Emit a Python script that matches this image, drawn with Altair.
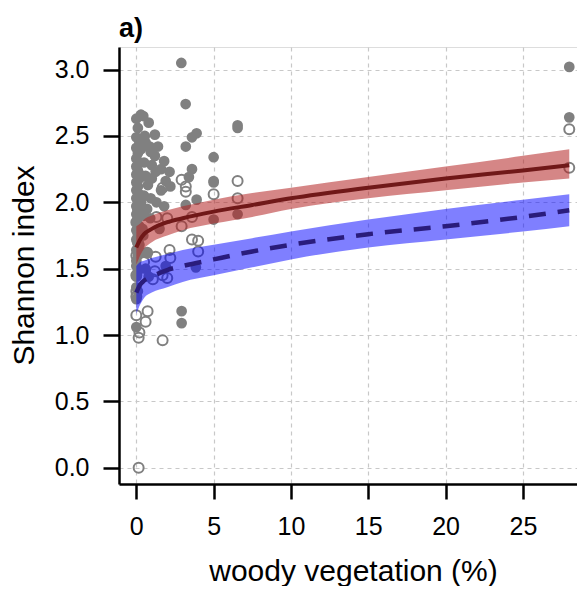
import altair as alt
import pandas as pd

# ---- data ----
fill_x = [0.0, 0.1, 0.0, 0.2, 0.0, 0.1, 0.0, 0.2, 0.0, 0.1, 0.0, 0.2, 0.0, 0.1, 0.0, 0.2,
          0.0, 0.1, 0.0, 0.2, 0.0, 0.1, 0.0, 0.2, 0.0, 0.1, 0.0, 0.2, 0.0, 0.1, 0.0, 0.0,
          0.1, 0.0, 0.0, 0.1, 0.0, 0.0, 0.3, 0.45, 0.3, 0.4, 0.3, 0.4, 0.3,
          0.8, 1.2, 0.87, 0.93, 1.8, 1.6, 1.25, 1.9, 0.75, 2.2, 1.6, 0.93, 0.5, 0.6, 0.5,
          0.7, 1.0, 1.2, 0.55, 0.6, 1.0, 1.3, 1.8, 0.5, 0.45, 0.6, 0.8, 1.9, 2.15, 1.4,
          0.9, 1.5, 0.7,
          2.91, 3.19, 3.9, 3.6, 6.55, 6.55, 3.2, 5.0, 3.6, 3.4, 5.0, 5.0, 3.2, 3.9, 5.0,
          6.55, 2.93, 2.93, 3.85, 28.0, 28.0]
fill_y = [2.63, 2.56, 2.49, 2.45, 2.41, 2.37, 2.33, 2.30, 2.27, 2.24, 2.21, 2.18, 2.15, 2.12,
          2.09, 2.06, 2.03, 2.00, 1.97, 1.94, 1.91, 1.88, 1.85, 1.82, 1.79, 1.76, 1.72, 1.68,
          1.64, 1.60, 1.56, 1.52, 1.48, 1.44, 1.36, 1.33, 1.27, 1.06, 2.66, 2.65, 2.40, 2.20,
          2.00, 1.80, 1.62,
          2.60, 2.51, 2.42, 2.38, 2.31, 2.25, 2.23, 2.16, 2.13, 2.12, 2.09, 2.03, 2.30, 2.20,
          2.05, 1.95, 2.28, 2.35, 2.50, 2.45, 2.18, 2.00, 1.97, 1.90, 1.75, 1.50, 1.44, 1.52,
          2.23, 2.42, 1.88, 1.80, 1.62,
          3.05, 2.74, 2.52, 2.49, 2.58, 2.56, 2.42, 2.34, 2.25, 2.19, 2.16, 2.15, 1.98, 2.02,
          1.87, 1.91, 1.18, 1.09, 1.51, 3.02, 2.64]

open_x = [2.93, 3.2, 3.2, 6.55, 5.0, 6.55, 1.3, 3.6, 2.93, 3.6, 4.0, 2.15, 4.0, 1.7, 1.07,
          0.73, 0.0, 0.6, 0.15, 1.7, 0.15, 28.0, 28.0, 1.7, 1.25, 2.2, 1.2, 2.0, 0.0, 0.0,
          0.0, 0.2, 0.0, 0.1, 0.3, 0.0, 0.1, 0.5, 0.7, 2.0]
open_y = [2.17, 2.12, 2.08, 2.16, 2.06, 2.03, 1.89, 1.89, 1.82, 1.72, 1.71, 1.64, 1.63, 1.45,
          1.42, 1.18, 1.15, 1.10, 0.98, 0.96, 0.00, 2.55, 2.26, 2.11, 1.59, 1.58, 1.48, 1.43,
          1.45, 1.33, 1.29, 1.02, 1.60, 1.70, 1.78, 1.85, 1.95, 1.55, 1.62, 1.88]

curve_x = [0, 0.25, 0.5, 1, 2, 3, 5, 7.5, 10, 15, 20, 25, 28]
red_fit = [1.66, 1.72, 1.76, 1.80, 1.85, 1.88, 1.93, 1.98, 2.03, 2.11, 2.18, 2.24, 2.28]
red_lo = [1.53, 1.60, 1.65, 1.70, 1.75, 1.79, 1.84, 1.89, 1.95, 2.03, 2.09, 2.15, 2.18]
red_hi = [1.82, 1.84, 1.87, 1.90, 1.94, 1.97, 2.02, 2.07, 2.11, 2.19, 2.27, 2.35, 2.40]
blue_fit = [1.32, 1.38, 1.41, 1.44, 1.49, 1.52, 1.57, 1.63, 1.68, 1.76, 1.82, 1.89, 1.94]
blue_lo = [1.16, 1.23, 1.28, 1.32, 1.36, 1.40, 1.45, 1.51, 1.57, 1.66, 1.72, 1.78, 1.82]
blue_hi = [1.52, 1.55, 1.56, 1.58, 1.61, 1.64, 1.68, 1.73, 1.78, 1.87, 1.95, 2.02, 2.06]

x_ticks = [0, 5, 10, 15, 20, 25]
y_ticks = [0.0, 0.5, 1.0, 1.5, 2.0, 2.5, 3.0]

# ---- tables ----
df_fill = pd.DataFrame({"x": fill_x, "y": fill_y})
df_open = pd.DataFrame({"x": open_x, "y": open_y})
df_curve = pd.DataFrame({"x": curve_x, "rfit": red_fit, "rlo": red_lo, "rhi": red_hi,
                         "bfit": blue_fit, "blo": blue_lo, "bhi": blue_hi})

FONT = "Liberation Sans"
xscale = alt.Scale(domain=[-1.12, 28.5], nice=False, zero=False)
yscale = alt.Scale(domain=[-0.122, 3.17], nice=False, zero=False)

xaxis = alt.Axis(values=x_ticks, format="d", title="woody vegetation (%)",
                 labelFontSize=25, labelFont=FONT, labelColor="black", labelPadding=15,
                 tickSize=15, tickWidth=2.5, tickColor="black",
                 domainColor="black", domainWidth=2.5,
                 grid=True, gridDash=[4, 4], gridColor="#c8c8c8", gridWidth=1.2,
                 titleFontSize=30, titleFont=FONT, titleFontWeight="normal", titleColor="black",
                 titleX=234, titleY=96, titleBaseline="alphabetic", titleAnchor="start",
                 titleAlign="center")
yaxis = alt.Axis(values=y_ticks, format=".1f", title="Shannon index",
                 labelFontSize=25, labelFont=FONT, labelColor="black", labelPadding=14,
                 tickSize=16, tickWidth=2.5, tickColor="black",
                 domainColor="black", domainWidth=2.5,
                 grid=True, gridDash=[4, 4], gridColor="#c8c8c8", gridWidth=1.2,
                 titleFontSize=30, titleFont=FONT, titleFontWeight="normal", titleColor="black",
                 titleX=-95, titleY=218, titleAngle=-90, titleAlign="center",
                 titleBaseline="middle")

base_x = alt.X("x:Q", scale=xscale, axis=xaxis)

filled = alt.Chart(df_fill).mark_circle(color="#808080", opacity=1, size=115).encode(
    x=base_x, y=alt.Y("y:Q", scale=yscale, axis=yaxis))
opened = alt.Chart(df_open).mark_point(shape="circle", filled=False, color="#808080",
                                        strokeWidth=2, size=100, opacity=1).encode(
    x=alt.X("x:Q", scale=xscale), y=alt.Y("y:Q", scale=yscale))

red_band = alt.Chart(df_curve).mark_area(color="#b22222", opacity=0.55, interpolate="monotone").encode(
    x=alt.X("x:Q", scale=xscale), y=alt.Y("rlo:Q", scale=yscale), y2="rhi:Q")
blue_band = alt.Chart(df_curve).mark_area(color="#0000ff", opacity=0.5, interpolate="monotone").encode(
    x=alt.X("x:Q", scale=xscale), y=alt.Y("blo:Q", scale=yscale), y2="bhi:Q")
red_line = alt.Chart(df_curve).mark_line(color="#701818", strokeWidth=4, interpolate="monotone").encode(
    x=alt.X("x:Q", scale=xscale), y=alt.Y("rfit:Q", scale=yscale))
blue_line = alt.Chart(df_curve).mark_line(color="#2a1c7c", strokeWidth=4.5, strokeDash=[17, 12],
                                          interpolate="monotone").encode(
    x=alt.X("x:Q", scale=xscale), y=alt.Y("bfit:Q", scale=yscale))

chart = alt.layer(filled, opened, red_band, blue_band, red_line, blue_line).properties(
    width=458, height=437,
    title=alt.TitleParams("a)", anchor="start", frame="group", fontSize=27, fontWeight="bold",
                          font=FONT, color="black", baseline="alphabetic", offset=14, dy=31),
    autosize=alt.AutoSizeParams(type="none"),
    padding={"left": 111, "top": 39, "right": 0, "bottom": 102},
).configure_view(stroke=None).configure(background="white")

chart.save("out.html", embed_options={"renderer": "svg", "actions": False})
